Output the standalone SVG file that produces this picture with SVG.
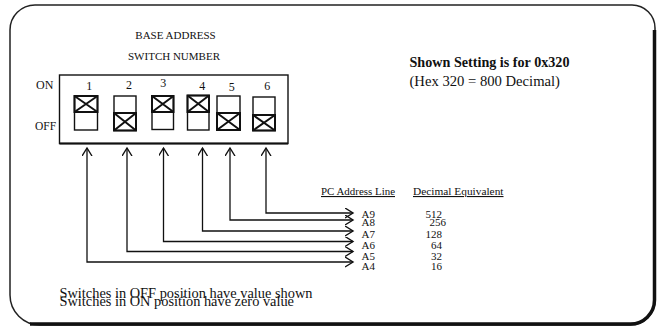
<svg xmlns="http://www.w3.org/2000/svg" width="657" height="330" viewBox="0 0 657 330">
<style>
text{font-family:"Liberation Serif","Times New Roman",serif;fill:#111}
.t11{font-size:11px}
.dig{font-size:12px;text-anchor:middle}
.sw{fill:none;stroke:#111;stroke-width:1.4}
.swx{fill:none;stroke:#111;stroke-width:2}
.con{fill:none;stroke:#111;stroke-width:1.3;marker-start:url(#ah);marker-end:url(#ah)}
.num{font-size:11px;text-anchor:end}
</style>
<defs>
<marker id="ah" markerUnits="userSpaceOnUse" markerWidth="12" markerHeight="12" refX="8" refY="5" orient="auto-start-reverse">
<path d="M0,0 L8,5 L0,10" fill="none" stroke="#111" stroke-width="1.4"/>
</marker>
</defs>
<rect width="657" height="330" fill="#fff"/>
<g id="frame">
<path d="M35,5 H632 A23,23 0 0 1 655,28 V300 A25,25 0 0 1 630,325 H40 A30,30 0 0 1 10,295 V30 A25,25 0 0 1 35,5 Z" fill="none" stroke="#222" stroke-width="1.5"/>
<path d="M30,324 H630 A24,24 0 0 0 654.5,300 V30" fill="none" stroke="#111" stroke-width="3.5"/>
</g>
<g id="title">
<text class="t11" x="175.5" y="39" text-anchor="middle">BASE ADDRESS</text>
<text class="t11" x="174" y="60" text-anchor="middle">SWITCH NUMBER</text>
</g>
<g id="setting">
<text x="409.5" y="66.5" font-size="14" font-weight="bold" textLength="160" lengthAdjust="spacingAndGlyphs">Shown Setting is for 0x320</text>
<text x="409.5" y="86" font-size="14.5" textLength="150.5" lengthAdjust="spacingAndGlyphs">(Hex 320 = 800 Decimal)</text>
</g>
<g id="dip-switch">
<rect x="59.5" y="75" width="228.5" height="68.5" fill="none" stroke="#111" stroke-width="1.4"/>
<line x1="59.5" y1="143.5" x2="288" y2="143.5" stroke="#111" stroke-width="2"/>
<text x="36" y="88.5" font-size="12">ON</text>
<text x="35" y="130" font-size="11.5">OFF</text>
<g id="sw1">
<text class="dig" x="89.3" y="89.5">1</text>
<rect class="sw" x="74.5" y="96" width="23" height="34"/>
<rect class="swx" x="74.5" y="96" width="23" height="16"/>
<path class="swx" d="M74.5,96 L97.5,112 M97.5,96 L74.5,112"/>
</g>
<g id="sw2">
<text class="dig" x="129" y="88.5">2</text>
<rect class="sw" x="114" y="96" width="22" height="34.5"/>
<rect class="swx" x="114" y="113" width="22" height="17.5"/>
<path class="swx" d="M114,113 L136,130.5 M136,113 L114,130.5"/>
</g>
<g id="sw3">
<text class="dig" x="163.3" y="87.3">3</text>
<rect class="sw" x="152" y="96" width="21.5" height="33.5"/>
<rect class="swx" x="152" y="96" width="21.5" height="16"/>
<path class="swx" d="M152,96 L173.5,112 M173.5,96 L152,112"/>
</g>
<g id="sw4">
<text class="dig" x="202.3" y="90">4</text>
<rect class="sw" x="187.5" y="95.5" width="21.5" height="34.5"/>
<rect class="swx" x="187.5" y="95.5" width="21.5" height="16.5"/>
<path class="swx" d="M187.5,95.5 L209,112 M209,95.5 L187.5,112"/>
</g>
<g id="sw5">
<text class="dig" x="231.7" y="91">5</text>
<rect class="sw" x="217" y="96" width="23" height="34"/>
<rect class="swx" x="217" y="113" width="23" height="17"/>
<path class="swx" d="M217,113 L240,130 M240,113 L217,130"/>
</g>
<g id="sw6">
<text class="dig" x="267.3" y="90">6</text>
<rect class="sw" x="253" y="97" width="22" height="33.5"/>
<rect class="swx" x="253" y="115" width="22" height="15.5"/>
<path class="swx" d="M253,115 L275,130.5 M275,115 L253,130.5"/>
</g>
</g>
<g id="connectors">
<path class="con" d="M266,148 V213 H353"/>
<path class="con" d="M230,148 V220 H353"/>
<path class="con" d="M202.5,148 V231 H353"/>
<path class="con" d="M163.5,148 V241.5 H353"/>
<path class="con" d="M127,148 V251.5 H353"/>
<path class="con" d="M87,148 V262 H353"/>
</g>
<g id="address-table">
<text class="t11" x="321" y="195" text-decoration="underline" textLength="74" lengthAdjust="spacingAndGlyphs">PC Address Line</text>
<text class="t11" x="413" y="195" text-decoration="underline" textLength="90.5" lengthAdjust="spacingAndGlyphs">Decimal Equivalent</text>
<text class="t11" x="361.5" y="217.5">A9</text>
<text class="t11" x="361.5" y="226">A8</text>
<text class="t11" x="361.5" y="238">A7</text>
<text class="t11" x="361.5" y="249">A6</text>
<text class="t11" x="361.5" y="260">A5</text>
<text class="t11" x="361.5" y="270">A4</text>
<text class="num" x="442" y="217.5">512</text>
<text class="num" x="446" y="226">256</text>
<text class="num" x="442" y="238">128</text>
<text class="num" x="442" y="249">64</text>
<text class="num" x="442" y="260">32</text>
<text class="num" x="442" y="270">16</text>
</g>
<g id="notes">
<text x="59.5" y="297.5" font-size="14.4" textLength="253" lengthAdjust="spacingAndGlyphs">Switches in OFF position have value shown</text>
<text x="59.5" y="306" font-size="14.4" textLength="234.5" lengthAdjust="spacingAndGlyphs">Switches in ON position have zero value</text>
</g>
</svg>
